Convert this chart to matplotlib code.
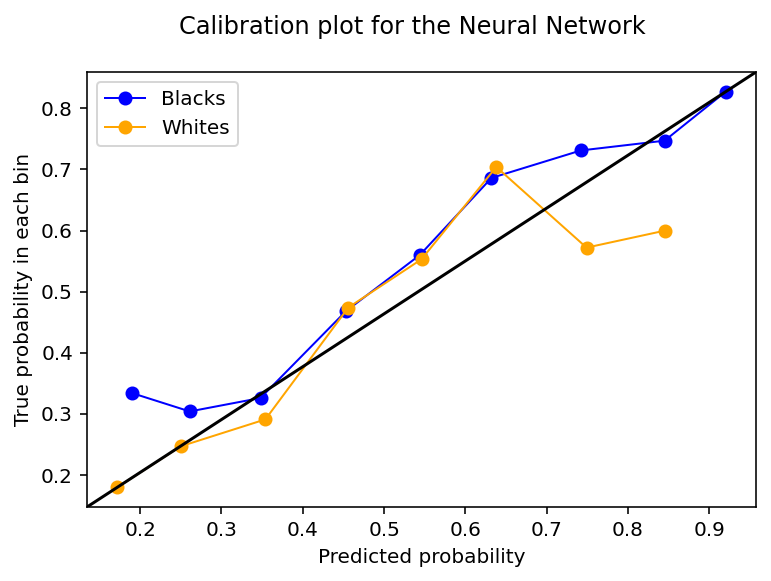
import matplotlib
matplotlib.use('Agg')
import matplotlib.pyplot as plt

blacks_pred = [0.190, 0.261, 0.348, 0.453, 0.544, 0.632, 0.742, 0.845, 0.920]
blacks_true = [0.334, 0.304, 0.326, 0.468, 0.560, 0.686, 0.731, 0.747, 0.827]
whites_pred = [0.172, 0.250, 0.354, 0.456, 0.546, 0.638, 0.749, 0.846]
whites_true = [0.180, 0.247, 0.291, 0.474, 0.553, 0.704, 0.572, 0.600]

dpi = 144
fig = plt.figure(figsize=(771 / dpi, 581 / dpi), dpi=dpi)
ax = fig.add_axes([87 / 771, 1 - 507 / 581, (756 - 87) / 771, (507 - 72) / 581])

ax.plot(blacks_pred, blacks_true, marker='o', color='blue', linewidth=1, label='Blacks')
ax.plot(whites_pred, whites_true, marker='o', color='orange', linewidth=1, label='Whites')
# perfect calibration line, corner to corner
ax.plot([0, 1], [0, 1], color='black', linewidth=1.5, transform=ax.transAxes)

ax.set_xlabel('Predicted probability')
ax.set_ylabel('True probability in each bin')
ax.legend(loc='upper left')
fig.suptitle('Calibration plot for the Neural Network', x=0.535, y=0.975)

fig.savefig('out.png', dpi=dpi)
